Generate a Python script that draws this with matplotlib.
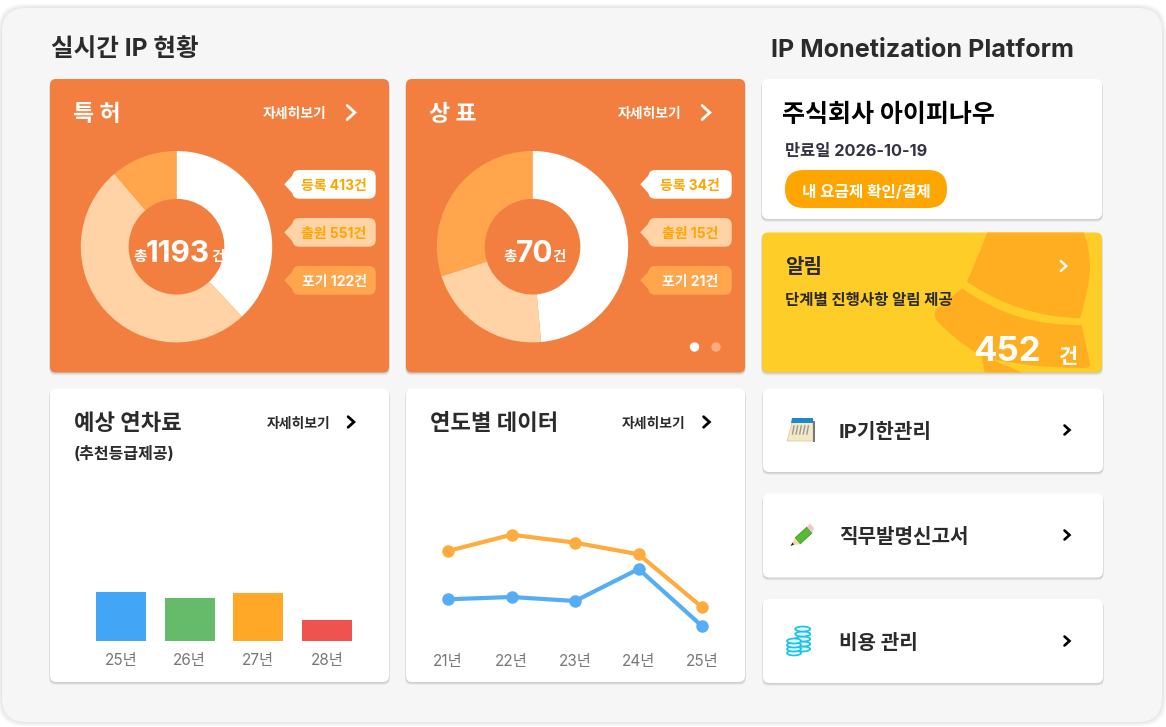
import matplotlib
matplotlib.use('Agg')
import matplotlib.pyplot as plt
from matplotlib.patches import FancyBboxPatch, Polygon, PathPatch, Circle, Ellipse, Rectangle
from matplotlib.path import Path

plt.rcParams['font.family'] = ['Inter', 'Noto Sans CJK KR', 'DejaVu Sans']

W, H = 1166, 727

# data
patent_values = [413, 551, 122]
patent_labels = ['등록 413건', '출원 551건', '포기 122건']
patent_total = '1193'
trademark_values = [34, 15, 21]
trademark_labels = ['등록 34건', '출원 15건', '포기 21건']
trademark_total = '70'

bar_years = ['25년', '26년', '27년', '28년']
bar_values = [48.3, 43, 47.5, 21]
bar_colors = ['#42A5F5', '#66BB6A', '#FFA726', '#EF5350']

line_years = ['21년', '22년', '23년', '24년', '25년']
line_orange = [109, 125.3, 117.3, 105.7, 52.7]
line_blue = [60.7, 63, 59, 91, 33.7]

ORANGE = '#F27F3F'
LIGHT = '#FFD3A5'
MID = '#FFA64D'
TAG_TEXT = '#FFA500'
DARK = '#2B2B2B'

fig = plt.figure(figsize=(W / 100, H / 100), dpi=100, facecolor='white')
ui = fig.add_axes([0, 0, 1, 1], zorder=0)
ui.set_xlim(0, W)
ui.set_ylim(H, 0)
ui.axis('off')
top = fig.add_axes([0, 0, 1, 1], zorder=5)
top.set_xlim(0, W)
top.set_ylim(H, 0)
top.axis('off')
top.patch.set_alpha(0)


def px_axes(x0, y0, x1, y1):
    # axes placed with pixel edges, y counted from the top
    a = fig.add_axes([x0 / W, 1 - y1 / H, (x1 - x0) / W, (y1 - y0) / H], zorder=2)
    a.patch.set_alpha(0)
    return a


def box(x0, y0, x1, y1, color, r=6, z=2, alpha=1, ax=ui):
    p = FancyBboxPatch((x0, y0), x1 - x0, y1 - y0, boxstyle=f'round,pad=0,rounding_size={r}',
                       fc=color, ec='none', alpha=alpha, zorder=z)
    ax.add_patch(p)
    return p


def card(x0, y0, x1, y1, color='white', r=6):
    for i in range(1, 5):
        box(x0 - 0.5, y0 + i * 0.6, x1 + 0.5, y1 + i * 0.7, '#555555', r=r, z=1, alpha=0.07)
    return box(x0, y0, x1, y1, color, r=r)


def chevron(x, y, s, color, lw):
    ui.plot([x - s * 0.55, x + s * 0.55, x - s * 0.55], [y - s, y, y + s], color=color, lw=lw,
            solid_capstyle='round', solid_joinstyle='miter', zorder=6)


def label(x, y, s, size, color=DARK, ha='left', weight='bold', ax=ui):
    # small nudge so the glyphs sit centred on y
    return ax.text(x, y + 1.3 + size * 0.09, s, fontsize=size, color=color, ha=ha, va='center',
                   fontweight=weight, zorder=7)


# page background
for i in range(4):
    box(1 - i, 7 - i, 1163 + i, 723 + i, '#888888', r=26, z=0, alpha=0.05)
box(2, 8, 1162, 722, '#F6F6F6', r=24, z=0.5)

label(51, 47, '실시간 IP 현황', 17.7)
label(771, 48, 'IP Monetization Platform', 18.1)


def donut_card(x0, name, values, tags, total, more_x, title_x):
    x1 = x0 + 339
    card(x0, 79, x1, 372.5, ORANGE)
    label(title_x, 112, name, 16.5, 'white')
    label(more_x, 112, '자세히보기', 10, 'white')
    chevron(more_x + 88, 112.5, 7, 'white', 2)
    cx = x0 + 126.5
    r = 95.7
    a = px_axes(cx - r, 246.7 - r, cx + r, 246.7 + r)
    a.pie(values, colors=['white', LIGHT, MID], startangle=90, counterclock=False, radius=1,
          wedgeprops=dict(width=0.5, linewidth=0))
    a.set_xlim(-1, 1)
    a.set_ylim(-1, 1)
    tag_colors = ['white', LIGHT, MID]
    text_colors = [TAG_TEXT, TAG_TEXT, 'white']
    for i, s in enumerate(tags):
        y0 = 170 + i * 48
        ui.add_patch(Polygon([[x0 + 234.3, y0 + 14.3], [x0 + 243, y0 + 5], [x0 + 243, y0 + 24]],
                             fc=tag_colors[i], ec='none', zorder=2))
        box(x0 + 242.3, y0, x0 + 325.7, y0 + 28.7, tag_colors[i], r=7)
        label(x0 + 284, y0 + 14, s, 10, text_colors[i], ha='center')
    return cx


cx = donut_card(50, '특 허', patent_values, patent_labels, patent_total, 263, 73)
label(cx - 36.5, 255, '총', 10.5, 'white', ha='center', ax=top)
label(cx + 1.5, 250.5, patent_total, 21.5, 'white', ha='center', ax=top)
label(cx + 41, 255, '건', 10.5, 'white', ha='center', ax=top)

cx = donut_card(406, '상 표', trademark_values, trademark_labels, trademark_total, 618, 429)
label(cx - 22.5, 255, '총', 10.5, 'white', ha='center', ax=top)
label(cx + 2, 250.5, trademark_total, 21.5, 'white', ha='center', ax=top)
label(cx + 26, 255, '건', 10.5, 'white', ha='center', ax=top)
top.add_patch(Circle((694.5, 347), 4.7, fc='white', ec='none'))
top.add_patch(Circle((716, 347), 4.7, fc='white', ec='none', alpha=0.35))

# bar card
card(50, 388.5, 389, 682)
label(74, 421, '예상 연차료', 16)
label(74, 452, '(추천등급제공)', 11.5)
label(267, 421.5, '자세히보기', 10)
chevron(351, 422, 5.3, 'black', 2)

bars = px_axes(86.3, 470, 361.6, 640.7)
bars.bar(range(4), bar_values, width=0.727, color=bar_colors)
bars.set_xlim(-0.5, 3.5)
bars.set_ylim(0, 170.7)
bars.set_yticks([])
bars.set_xticks(range(4))
bars.set_xticklabels(bar_years, fontsize=11, color='#777777')
bars.tick_params(axis='x', length=0, pad=9)
for s in bars.spines.values():
    s.set_visible(False)

# line card
card(406, 388.5, 745, 682)
label(430, 421, '연도별 데이터', 16)
label(622, 421.5, '자세히보기', 10)
chevron(706.5, 422, 5.3, 'black', 2)

lines = px_axes(416.2, 470, 734, 640)
lines.plot(range(5), line_orange, color='#FFAB3D', lw=3, marker='o', ms=9, mew=0, clip_on=False)
lines.plot(range(5), line_blue, color='#54ADF5', lw=3, marker='o', ms=9, mew=0, clip_on=False)
lines.set_xlim(-0.5, 4.5)
lines.set_ylim(20, 190)
lines.set_yticks([])
lines.set_xticks(range(5))
lines.set_xticklabels(line_years, fontsize=11, color='#777777')
lines.tick_params(axis='x', length=0, pad=10)
for s in lines.spines.values():
    s.set_visible(False)

# company card
card(762, 79, 1102, 219)
label(782, 112, '주식회사 아이피나우', 18, 'black')
label(785, 149.5, '만료일 2026-10-19', 11.8, '#333344')
box(785, 170, 947, 208, '#FFA500', r=19)
label(866, 190, '내 요금제 확인/결제', 11.3, 'white', ha='center')

# alarm card with bell
alarm = card(762, 232.5, 1102, 372.5, '#FFCD28')
BELL = '#FFAE22'


def bell_shape(verts, codes):
    p = PathPatch(Path(verts, codes), fc=BELL, ec='none', zorder=3)
    ui.add_patch(p)
    p.set_clip_path(alarm)


M, L, C3, Z = Path.MOVETO, Path.LINETO, Path.CURVE3, Path.CLOSEPOLY
bell_shape([(988, 230), (977, 260), (966.7, 281.7), (1018, 316.7), (1080, 318.3),
            (1090, 285), (1090, 266.7), (1090, 248), (1083, 230), (988, 230)],
           [M, C3, C3, C3, C3, C3, C3, C3, C3, Z])
bell_shape([(962.3, 288.3), (1015, 326.7), (1081.7, 325), (1090, 363.3), (1092, 368), (1083, 368),
            (1028, 368), (981.7, 356.7), (955, 340), (938, 322), (930, 314), (940, 306), (962.3, 288.3)],
           [M, C3, C3, L, C3, C3, C3, C3, C3, C3, C3, C3, L])
bell_shape([(981.7, 356), (985, 375), (1027, 375), (1005, 364), (981.7, 356)], [M, L, L, C3, C3])

label(785, 265, '알림', 14.5)
chevron(1063.5, 266, 5, 'white', 1.7)
label(785, 298, '단계별 진행사항 알림 제공', 11.2)
label(973, 348, '452', 25, 'white')
label(1059, 354, '건', 15, 'white')

# menu cards
card(763, 388.5, 1103, 472)
card(763, 493.5, 1103, 577.5)
card(763, 599, 1103, 683)
menu_names = ['IP기한관리', '직무발명신고서', '비용 관리']
menu_y = [430, 535, 641]
for name, y in zip(menu_names, menu_y):
    label(839, y, name, 14.5)
    chevron(1067, y, 4.5, 'black', 1.9)

# calendar icon
ui.add_patch(Polygon([[792, 423], [813, 419], [813, 441], [787, 441]], fc='#F3E8C4', ec='#D9CFA8', lw=0.6, zorder=3))
ui.add_patch(Polygon([[792, 418], [813, 418], [813, 423], [791, 423]], fc='#1E88C8', ec='none', zorder=4))
for i in range(5):
    ui.plot([794 + i * 3.6, 792.5 + i * 3.6], [426, 434], color='#999999', lw=1, zorder=4)
ui.add_patch(Rectangle((813, 421), 1.5, 21, fc='#777777', ec='none', zorder=3))

# pencil icon
ui.add_patch(Polygon([[795, 538], [807, 527], [812, 533], [800, 544]], fc='#55BB33', ec='#2E8B22', lw=0.5, zorder=3))
ui.add_patch(Polygon([[807, 527], [810, 523.5], [814, 528], [812, 533]], fc='#F5C6CB', ec='none', zorder=3))
ui.add_patch(Polygon([[795, 538], [800, 544], [790.5, 546]], fc='#F2D9A8', ec='none', zorder=3))
ui.add_patch(Polygon([[792.5, 542.5], [794, 544.5], [790.5, 546]], fc='#222222', ec='none', zorder=4))

# coins icon
for x, ys, rx in [(802.7, [649, 644, 639, 634, 629], 7.5), (794, [653, 649, 645, 641], 7)]:
    for y in ys:
        ui.add_patch(Ellipse((x, y), rx * 2, 5, fc='#D8F6FC', ec='#19C3E6', lw=1.2, zorder=3))

fig.savefig('out.png', dpi=100, facecolor='white')
